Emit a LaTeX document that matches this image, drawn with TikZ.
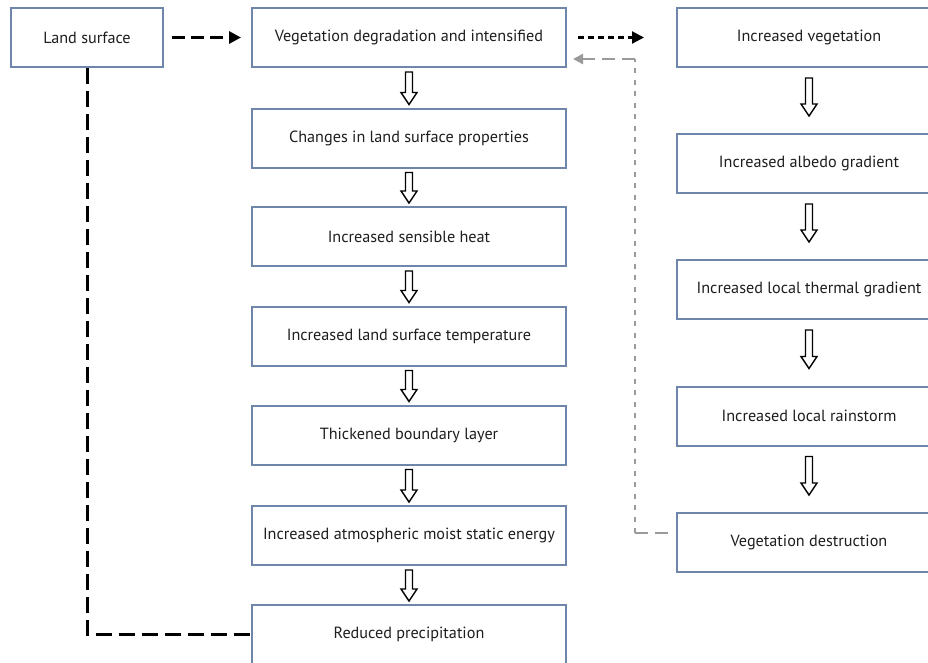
\documentclass[tikz,border=0pt]{standalone}
\usepackage{fontspec}
\setmainfont{PT Sans}
\usetikzlibrary{arrows.meta,calc}

\definecolor{boxline}{HTML}{6D86A9}
\definecolor{txt}{HTML}{1E1E1E}
\definecolor{fb}{HTML}{9A9A9A}

\tikzset{
  box/.style={draw=boxline, line width=2pt, fill=white, text=txt,
    inner sep=0pt, minimum height=59pt,
    font=\fontsize{16.2}{19}\selectfont},
  midbox/.style={box, minimum width=314pt},
  rightbox/.style={box, minimum width=264pt},
  hollow/.style={draw=black, line width=1.4pt, fill=white, line join=miter},
  longdash/.style={draw=black, line width=3pt, dash pattern=on 13pt off 6pt},
  ldash/.style={draw=black, line width=3pt, dash pattern=on 16pt off 7pt},
  shortdash/.style={draw=black, line width=2.2pt, dash pattern=on 6pt off 4pt},
  fbdash/.style={draw=fb, line width=2.8pt, dash pattern=on 13pt off 7pt},
  fbdot/.style={draw=fb, line width=2.8pt, dash pattern=on 5pt off 6.5pt},
}

% hollow block arrow from the bottom of #1 to the top of #2,
% starting #3 below #1 and ending #4 above #2
\newcommand\blockarrow[4]{%
  \path let \p1=($(#1.south)+(0,#3)$), \p2=($(#2.north)+(0,-#4)$) in
    [hollow] (\x1-3.5pt,\y1) -- (\x1+3.5pt,\y1) -- (\x1+3.5pt,\y2+12pt)
    -- (\x1+8pt,\y2+12pt) -- (\x1,\y2) -- (\x1-8pt,\y2+12pt)
    -- (\x1-3.5pt,\y2+12pt) -- cycle;}

\begin{document}
\begin{tikzpicture}[x=1pt,y=-1pt]
\useasboundingbox (0,0) rectangle (928,662);
\clip (0,0) rectangle (928,662);

% source box
\node[box, minimum width=152pt] (land) at (87,37.5) {Land surface};

% middle chain
\node[midbox] (m1) at (409,37.5)  {Vegetation degradation and intensified};
\node[midbox] (m2) at (409,138)   {Changes in land surface properties};
\node[midbox] (m3) at (409,236.5) {Increased sensible heat};
\node[midbox] (m4) at (409,336)   {Increased land surface temperature};
\node[midbox] (m5) at (409,435)   {Thickened boundary layer};
\node[midbox] (m6) at (409,535.5) {Increased atmospheric moist static energy};
\node[midbox] (m7) at (409,634.5) {Reduced precipitation};

% right chain
\node[rightbox] (r1) at (809,37.5)  {Increased vegetation};
\node[rightbox] (r2) at (809,163.5) {Increased albedo gradient};
\node[rightbox] (r3) at (809,289.5) {Increased local thermal gradient};
\node[rightbox] (r4) at (809,416)   {Increased local rainstorm};
\node[rightbox] (r5) at (809,542.5) {Vegetation destruction};

% block arrows, middle chain
\blockarrow{m1}{m2}{4}{3}
\blockarrow{m2}{m3}{4}{3}
\blockarrow{m3}{m4}{4}{3}
\blockarrow{m4}{m5}{4}{3}
\blockarrow{m5}{m6}{4}{3}
\blockarrow{m6}{m7}{4}{3}

% block arrows, right chain
\blockarrow{r1}{r2}{10}{17}
\blockarrow{r2}{r3}{10}{17}
\blockarrow{r3}{r4}{10}{17}
\blockarrow{r4}{r5}{10}{17}

% land surface -> vegetation degradation
\draw[longdash, -{Triangle[length=12pt,width=12pt,fill=black]}]
  ($(land.east)+(8,0)$) -- ($(m1.west)+(-10,0)$);

% land surface -> reduced precipitation
\draw[ldash] (land.south) |- (m7.west);

% vegetation degradation -> increased vegetation
\draw[shortdash, -{Triangle[length=12pt,width=12pt,fill=black]}]
  ($(m1.east)+(11,0)$) -- ($(r1.west)+(-32,0)$);

% feedback: vegetation destruction -> vegetation degradation
\coordinate (fbstart) at ($(r5.west)+(-8,-9.5)$);
\coordinate (fbcorner1) at (635,533);
\coordinate (fbcorner2) at (635,59);
\coordinate (fbend) at ($(m1.east)+(6,21.5)$);
\draw[fbdash] (fbstart) -- (fbcorner1);
\draw[fbdot] (fbcorner1) -- (fbcorner2);
\draw[fbdash, -{Triangle[length=10pt,width=10pt,fill=fb]}] (fbcorner2) -- (fbend);
\end{tikzpicture}
\end{document}
